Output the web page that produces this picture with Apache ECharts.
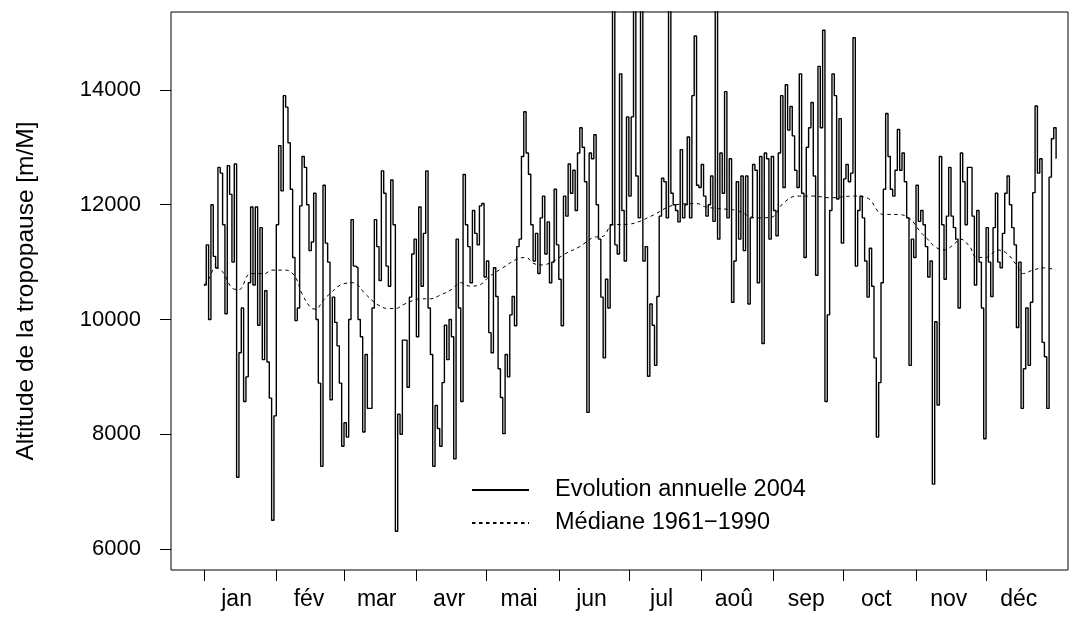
<!DOCTYPE html>
<html>
<head>
<meta charset="utf-8">
<script src="https://cdn.jsdelivr.net/npm/echarts@6/dist/echarts.min.js"></script>
<style>
  html, body { margin: 0; padding: 0; background: #fff; }
  #chart { width: 1082px; height: 628px; }
</style>
</head>
<body>
<div id="chart"></div>
<script>
// altitude de la tropopause 2004, une valeur par jour (m)
var jan = [10600,11300,10000,12000,11100,10900,12650,12550,11650,10100,12680,12180,11000,12710,7250,9420,10200,8570,9000,10640,11960,10600,11960,9900,11600,9300,10500,9260,8630,6500,8320];
var fev = [11650,13030,12240,13900,13700,13080,12270,11080,9980,10200,11980,12840,12650,12000,11200,11350,12200,10000,8890,7440,12340,11330,11000,8600,10390,9950,9540,8890,7790];
var mar = [8200,7950,10000,11740,10930,10900,10000,9700,8040,9390,8450,8450,10200,11740,11270,10680,12590,12200,10930,10580,12430,11650,6310,8350,8000,9640,9640,8820,10390,11140,11400];
var avr = [9700,11960,10580,11500,12590,10200,9390,7440,8500,8100,7790,8900,9900,9300,10000,9700,7570,11400,10200,8570,12525,11650,11270,10640,11900,11500,11300,11980,12020,10740];
var mai = [11020,9770,9420,10900,10400,9140,8640,8010,9390,9000,10080,10400,9890,11270,11400,12840,13620,12900,12530,11650,11020,11500,10800,11770,12150,11140,11700,10640,11000,12270,11300];
var jun = [10700,9890,12150,11800,12710,12200,12600,11900,12900,13340,13000,12400,8380,12900,12800,13220,12000,11400,10390,9330,10700,10200,11650,16000,11300,11140,14280,11900,11020,13530];
var jul = [12150,13530,16000,12500,11770,16000,11020,11270,9010,10270,9900,9200,10400,11800,12460,12400,11770,16000,12200,12000,11900,11700,12960,11770,12000,13180,11770,13900,14940,12340,12300];
var aou = [12700,12150,11800,12000,12500,11710,16000,11400,12900,12200,13970,11770,12800,10300,11020,12400,11400,12500,11200,12500,10270,11770,12700,12600,10640,12840,9580,12900,12800,11400,12840];
var sep = [11900,11460,12900,13900,12300,14090,13300,13710,13200,12600,12300,14280,12200,11080,13000,13340,13780,12500,10770,14410,13340,15040,8570,10080,11900,14280,13900,12100,13500,11330];
var oct = [12450,12700,12400,12550,14910,10930,11900,12150,11770,11020,10390,11240,10580,9330,7950,8900,10640,12270,13590,12840,12270,12150,12600,13310,12600,12900,12400,11770,9200,11400,11080];
var nov = [12340,11710,11900,11650,11270,10740,11020,7130,9960,8510,12840,11650,10700,11800,12650,11800,11600,11400,10200,12900,12400,11650,12650,12650,11800,10600,11900,11000,10200,7920];
var dec = [11600,11000,10400,11600,12200,11000,10900,11500,12200,12500,12000,11600,11300,9860,11000,8450,9140,10200,9200,10300,12210,13720,12550,12800,9600,9350,8450,12480,13150,13340,12800];

// médiane 1961-1990 (jour de l'année, m)
var medJours = [0,2,5,8,12,15,20,26,29,35,39,42,46,48,51,54,59,64,69,74,79,82,86,93,97,101,106,110,114,118,122,128,134,138,141,145,149,155,161,167,171,175,182,186,193,201,211,215,221,228,237,243,248,254,261,268,278,284,291,297,302,307,310,313,317,321,324,328,331,335,340,344,348,351,355,360,365];
var medValeurs = [10600,10700,10900,10830,10550,10520,10800,10800,10860,10860,10750,10450,10200,10180,10330,10450,10610,10640,10450,10270,10190,10190,10270,10360,10360,10420,10520,10640,10580,10600,10740,10900,11050,11080,10980,10950,11000,11150,11270,11430,11450,11650,11660,11700,11830,11990,12020,11960,11930,11900,11770,11780,12020,12150,12150,12120,12150,12120,11830,11830,11770,11520,11400,11270,11210,11300,11400,11270,11080,11080,11210,11150,10950,10800,10860,10900,10860];

var moisNoms = ['jan','fév','mar','avr','mai','jun','jul','aoû','sep','oct','nov','déc'];
var moisDebut = [0,31,60,91,121,152,182,213,244,274,305,335];
var yTicks = [6000,8000,10000,12000,14000];

var police = 'Liberation Sans, Arial, Helvetica, sans-serif';

var valeurs = [].concat(jan, fev, mar, avr, mai, jun, jul, aou, sep, oct, nov, dec);
var serie2004 = valeurs.map(function (v, i) { return [i, v]; });
var serieMed = medJours.map(function (d, i) { return [d, medValeurs[i]]; });
var posLabels = moisDebut.map(function (d) { return d + 14; });

var chart = echarts.init(document.getElementById('chart'), null, { renderer: 'canvas' });

chart.setOption({
  animation: false,
  backgroundColor: '#fff',
  grid: {
    left: 171, right: 14, top: 12, bottom: 58,
    show: true, borderColor: '#000', borderWidth: 1, backgroundColor: 'transparent'
  },
  legend: {
    orient: 'vertical',
    left: 466, top: 473,
    itemWidth: 57, itemHeight: 22, itemGap: 9,
    itemStyle: { opacity: 0 },
    textStyle: { fontSize: 23.5, fontFamily: police, color: '#000', padding: [0, 0, 0, 21] },
    data: ['Evolution annuelle 2004', 'Médiane 1961\u22121990']
  },
  xAxis: {
    type: 'value',
    min: -14.1, max: 370.1,
    axisLine: { show: false, onZero: false },
    splitLine: { show: false },
    axisTick: { show: true, length: 11, customValues: moisDebut, lineStyle: { color: '#000', width: 1 } },
    axisLabel: {
      customValues: posLabels,
      margin: 18,
      fontSize: 23, fontFamily: police, color: '#000',
      formatter: function (v) {
        var k = posLabels.indexOf(v);
        return k >= 0 ? moisNoms[k] : '';
      }
    }
  },
  yAxis: {
    type: 'value',
    min: 5634, max: 15358,
    name: 'Altitude de la tropopause [m/M]',
    nameLocation: 'middle',
    nameGap: 132,
    nameTextStyle: { fontSize: 24.5, fontFamily: police, color: '#000' },
    axisLine: { show: false, onZero: false },
    splitLine: { show: false },
    axisTick: { show: true, length: 11, customValues: yTicks, lineStyle: { color: '#000', width: 1 } },
    axisLabel: {
      customValues: yTicks,
      margin: 30,
      fontSize: 22, fontFamily: police, color: '#000',
      formatter: function (v) { return String(v); }
    }
  },
  series: [
    {
      name: 'Evolution annuelle 2004',
      type: 'line',
      step: 'end',
      data: serie2004,
      symbol: 'none',
      clip: true,
      lineStyle: { color: '#000', width: 1.4 },
      itemStyle: { color: '#000' }
    },
    {
      name: 'Médiane 1961\u22121990',
      type: 'line',
      smooth: 0.4,
      data: serieMed,
      symbol: 'none',
      clip: true,
      lineStyle: { color: '#000', width: 1, type: [3.5, 3.5] },
      itemStyle: { color: '#000' }
    }
  ]
});
</script>
</body>
</html>
